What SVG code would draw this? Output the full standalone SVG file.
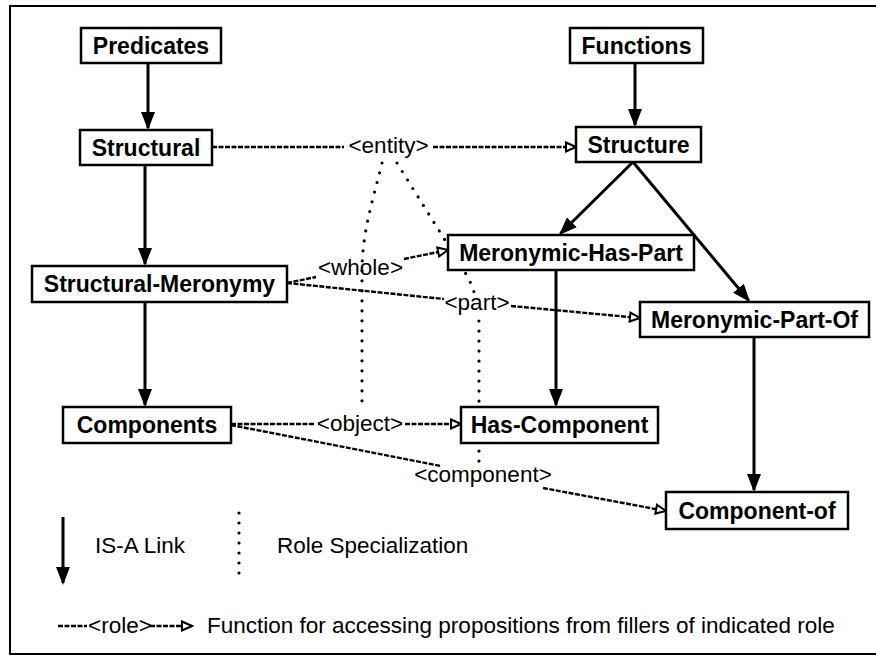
<svg xmlns="http://www.w3.org/2000/svg" width="876" height="660" viewBox="0 0 876 660">
<style>
  .box { fill: #fff; stroke: #000; stroke-width: 2.5; }
  .nt { font-family: "Liberation Sans", Arial, sans-serif; font-weight: bold; font-size: 23px; text-anchor: middle; fill: #000; }
  .lt { font-family: "Liberation Sans", Arial, sans-serif; font-size: 22.5px; fill: #000; }
  .mid { text-anchor: middle; }
  .isa { stroke: #000; stroke-width: 3; fill: none; marker-end: url(#solid); }
  .role { stroke: #000; stroke-width: 2.4; fill: none; stroke-dasharray: 5 1.5; }
  .rolearr { marker-end: url(#open); }
  .dot { stroke: #000; stroke-width: 3.2; fill: none; stroke-dasharray: 0 10; stroke-linecap: round; }
</style>
<defs>
  <marker id="solid" markerUnits="userSpaceOnUse" markerWidth="18" markerHeight="14" refX="16" refY="7" orient="auto">
    <path d="M0,0 L18,7 L0,14 z" fill="#000"/>
  </marker>
  <marker id="open" markerUnits="userSpaceOnUse" markerWidth="14" markerHeight="12" refX="12" refY="6" orient="auto">
    <path d="M2,1.5 L12,6 L2,10.5 z" fill="#fff" stroke="#000" stroke-width="2"/>
  </marker>
</defs>

<path d="M876 6 H10 V654 H876" fill="none" stroke="#000" stroke-width="2"/>

<g id="connectors">
  <!-- IS-A links -->
  <line class="isa" x1="148" y1="63" x2="148" y2="128"/>
  <line class="isa" x1="145" y1="165" x2="145" y2="264"/>
  <line class="isa" x1="145" y1="302" x2="145" y2="405"/>
  <line class="isa" x1="635" y1="63" x2="635" y2="125"/>
  <line class="isa" x1="633" y1="162" x2="560.5" y2="233.5"/>
  <line class="isa" x1="633" y1="162" x2="748.7" y2="300.5"/>
  <line class="isa" x1="556" y1="270" x2="556" y2="405"/>
  <line class="isa" x1="754" y1="337" x2="754" y2="490"/>

  <!-- role specialization (dotted) -->
  <path class="dot" d="M382 163 C373 200 362 232 362 272 L362 402"/>
  <path class="dot" d="M397 163 L466 274 Q479 296 479 326 L479 467"/>

  <!-- role functions -->
  <line class="role" x1="212" y1="147" x2="344" y2="147"/>
  <line class="role rolearr" x1="433" y1="147" x2="576" y2="147"/>
  <text class="lt mid" x="388.5" y="153">&lt;entity&gt;</text>

  <line class="role" x1="287" y1="283" x2="316" y2="277"/>
  <line class="role rolearr" x1="404" y1="259" x2="448" y2="250"/>
  <text class="lt mid" x="360.5" y="275">&lt;whole&gt;</text>

  <line class="role" x1="287" y1="283" x2="444" y2="299"/>
  <line class="role rolearr" x1="511" y1="306" x2="640" y2="318"/>
  <rect x="446" y="293" width="62" height="22" fill="#fff"/>
  <text class="lt mid" x="477" y="310">&lt;part&gt;</text>

  <line class="role" x1="231" y1="424" x2="315" y2="424"/>
  <line class="role rolearr" x1="405" y1="424" x2="461" y2="424"/>
  <text class="lt mid" x="360" y="431">&lt;object&gt;</text>

  <line class="role" x1="231" y1="425" x2="441" y2="466"/>
  <line class="role rolearr" x1="543" y1="488" x2="666" y2="511"/>
  <text class="lt mid" x="483" y="482">&lt;component&gt;</text>
</g>

<g id="node-predicates"><rect class="box" x="81" y="28" width="140" height="35"/><text class="nt" x="151" y="54">Predicates</text></g>
<g id="node-functions"><rect class="box" x="570" y="28" width="133" height="35"/><text class="nt" x="636.5" y="54">Functions</text></g>
<g id="node-structural"><rect class="box" x="80" y="130" width="132" height="35"/><text class="nt" x="146" y="156">Structural</text></g>
<g id="node-structure"><rect class="box" x="576" y="127" width="125" height="35"/><text class="nt" x="638.5" y="153">Structure</text></g>
<g id="node-structural-meronymy"><rect class="box" x="32" y="266" width="255" height="36"/><text class="nt" x="159.5" y="292">Structural-Meronymy</text></g>
<g id="node-meronymic-has-part"><rect class="box" x="448" y="235" width="246" height="35"/><text class="nt" x="571" y="261">Meronymic-Has-Part</text></g>
<g id="node-meronymic-part-of"><rect class="box" x="640" y="302" width="229" height="35"/><text class="nt" x="754.5" y="328">Meronymic-Part-Of</text></g>
<g id="node-components"><rect class="box" x="63" y="407" width="168" height="36"/><text class="nt" x="147" y="433">Components</text></g>
<g id="node-has-component"><rect class="box" x="461" y="407" width="197" height="36"/><text class="nt" x="559.5" y="433">Has-Component</text></g>
<g id="node-component-of"><rect class="box" x="666" y="492" width="182" height="37"/><text class="nt" x="757" y="519">Component-of</text></g>

<g id="legend">
  <line class="isa" x1="63" y1="517" x2="63" y2="583"/>
  <text class="lt" x="95" y="553">IS-A Link</text>
  <line class="dot" x1="239" y1="513" x2="239" y2="577"/>
  <text class="lt" x="277" y="553">Role Specialization</text>
  <line class="role" x1="58" y1="626" x2="87" y2="626"/>
  <text class="lt" x="88" y="633" font-size="21">&lt;role&gt;</text>
  <line class="role rolearr" x1="150" y1="626" x2="192" y2="626"/>
  <text class="lt" x="207" y="633">Function for accessing propositions from fillers of indicated role</text>
</g>
</svg>
